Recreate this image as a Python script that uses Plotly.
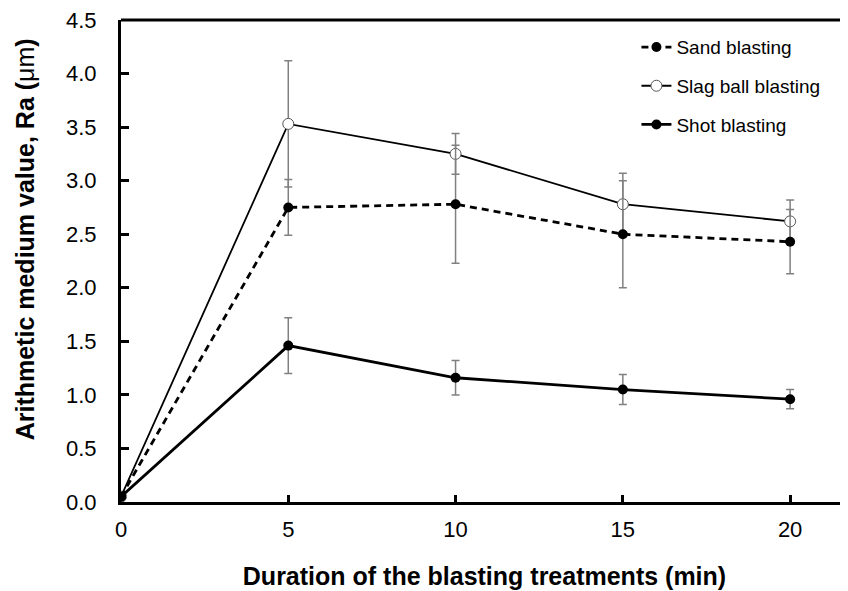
import plotly.graph_objects as go

duration = [0, 5, 10, 15, 20]
sand = [0.05, 2.75, 2.78, 2.50, 2.43]
sand_err = [0, 0.26, 0.55, 0.50, 0.30]
slag = [0.05, 3.53, 3.25, 2.78, 2.62]
slag_err = [0, 0.59, 0.19, 0.29, 0.20]
shot = [0.05, 1.46, 1.16, 1.05, 0.96]
shot_err = [0, 0.26, 0.16, 0.14, 0.09]

x_ticks = [0, 5, 10, 15, 20]
y_ticks = [0.0, 0.5, 1.0, 1.5, 2.0, 2.5, 3.0, 3.5, 4.0, 4.5]

FONT = "Liberation Sans, Arial, sans-serif"
ERR = dict(type="data", visible=True, color="#808080", thickness=1.5, width=4)

fig = go.Figure()
fig.add_trace(go.Scatter(
    x=duration, y=slag, name="Slag ball blasting", mode="lines+markers",
    error_y=dict(array=slag_err, **ERR),
    line=dict(color="black", width=1.8),
    marker=dict(symbol="circle", size=11, color="white", line=dict(color="#555555", width=1)),
    legendrank=2, legendgroup="b"))
fig.add_trace(go.Scatter(
    x=duration, y=sand, name="Sand blasting", mode="lines+markers",
    error_y=dict(array=sand_err, **ERR),
    line=dict(color="black", width=2.8, dash="7px,5px"),
    marker=dict(symbol="circle", size=10, color="black"),
    legendrank=1, legendgroup="a"))
fig.add_trace(go.Scatter(
    x=duration, y=shot, name="Shot blasting", mode="lines+markers",
    error_y=dict(array=shot_err, **ERR),
    line=dict(color="black", width=2.8),
    marker=dict(symbol="circle", size=10, color="black"),
    legendrank=3, legendgroup="c"))

fig.update_layout(
    width=840, height=583,
    margin=dict(l=113, r=0, t=10, b=89),
    paper_bgcolor="white", plot_bgcolor="white",
    font=dict(family=FONT, size=22, color="black"),
    showlegend=True,
    legend=dict(x=0.709, y=0.983, xanchor="left", yanchor="top",
                font=dict(size=19, family=FONT), tracegroupgap=11,
                bgcolor="rgba(0,0,0,0)", traceorder="grouped"),
    xaxis=dict(range=[0, 21.73], tickvals=x_ticks, ticks="inside", ticklen=7,
               tickwidth=2.5, tickcolor="black", showline=True, linecolor="black",
               linewidth=3, showgrid=False, zeroline=False, ticklabelstandoff=6,
               tickfont=dict(size=22), ticklabeloverflow="allow",
               title=dict(text="<b>Duration of the blasting treatments (min)</b>",
                          font=dict(size=25), standoff=27)),
    yaxis=dict(range=[0, 4.5], tickvals=y_ticks, tickformat=".1f", ticks="inside",
               ticklen=8, tickwidth=2.5, tickcolor="black", showline=True,
               linecolor="black", linewidth=3, showgrid=False, zeroline=False,
               ticklabelstandoff=17, tickfont=dict(size=22), ticklabeloverflow="allow"),
)
fig.add_annotation(text="<b>Arithmetic medium value, Ra (</b>μm<b>)</b>",
                   xref="paper", yref="paper", x=-0.132, y=0.545,
                   xanchor="center", yanchor="middle", textangle=-90,
                   showarrow=False, font=dict(size=25, family=FONT))
fig.add_shape(type="line", xref="paper", yref="paper", x0=0, x1=1, y0=1, y1=1,
              line=dict(color="black", width=3))

fig.write_html("out.html")
